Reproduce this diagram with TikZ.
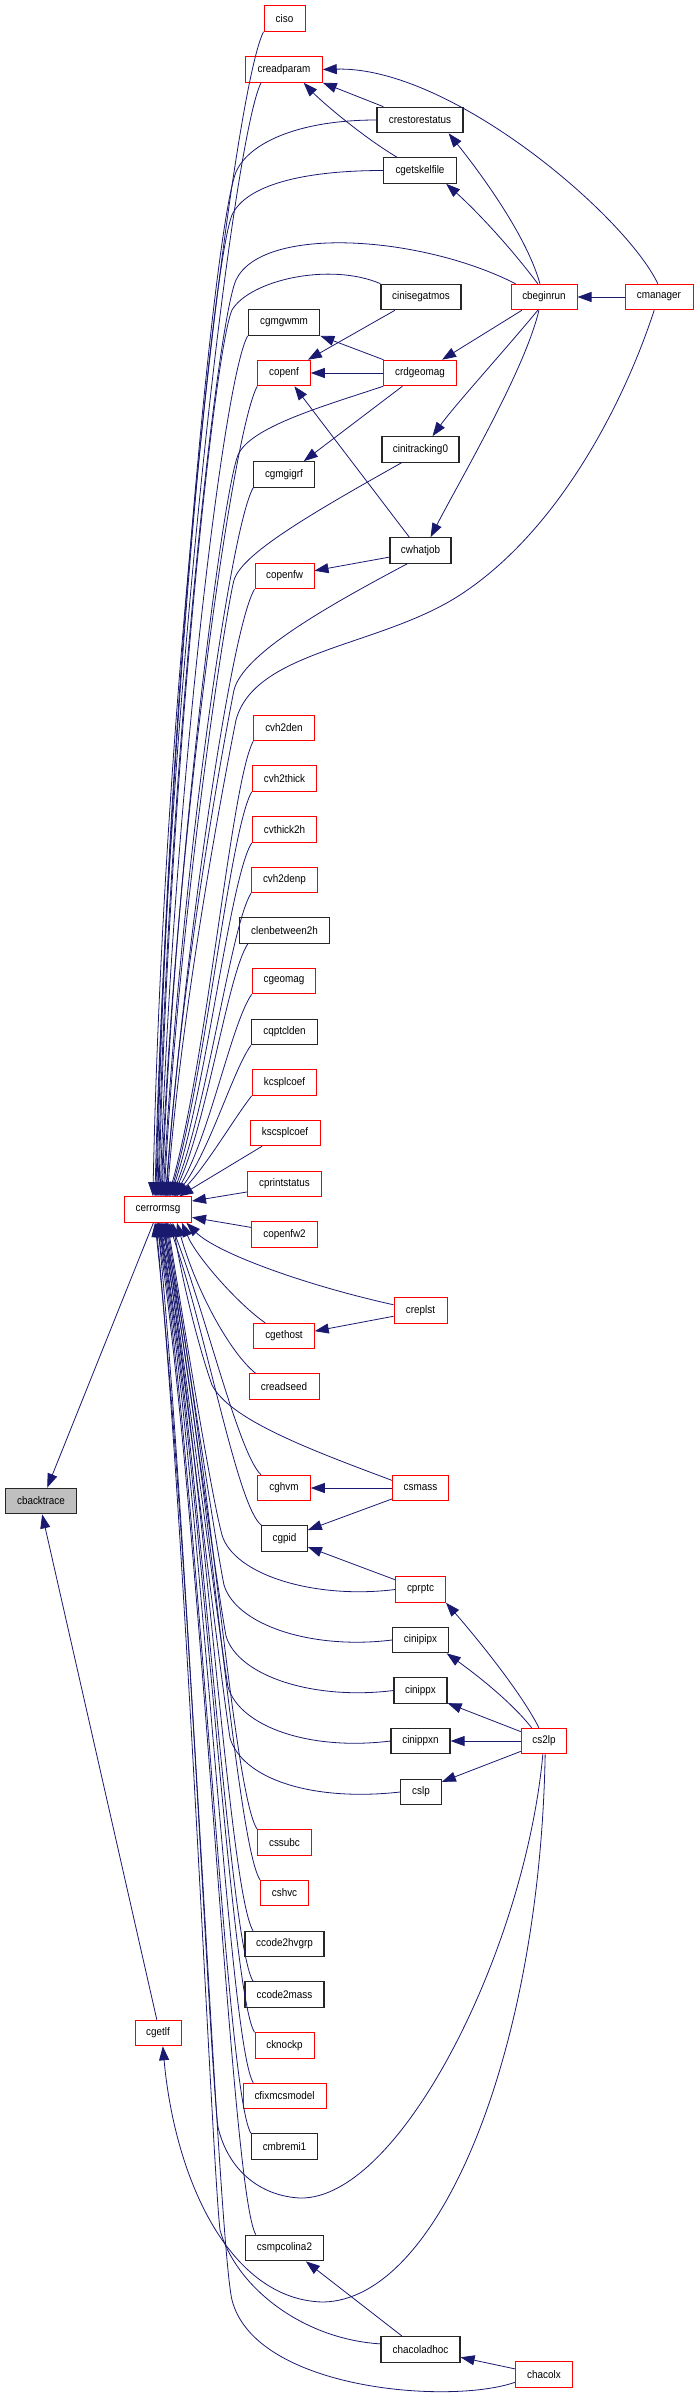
\documentclass[tikz,border=0pt]{standalone}
\usepackage{fontspec}
\setmainfont{Liberation Sans}[FakeStretch=0.9]
\usetikzlibrary{arrows.meta}
\definecolor{edgeblue}{HTML}{191970}
\definecolor{nodered}{HTML}{FF0000}
\definecolor{nodegrey}{HTML}{BFBFBF}
\begin{document}
\begin{tikzpicture}[x=1pt,y=-1pt,
  box/.style={draw, fill=white, minimum height=25.5pt, inner xsep=2pt, inner ysep=0pt, font=\fontsize{11}{12}\selectfont, anchor=center},
  rbox/.style={box, draw=nodered, line width=1pt},
  bbox/.style={box, draw=black!85, line width=1.2pt},
  gbox/.style={bbox, fill=nodegrey},
  edge/.style={draw=edgeblue, line width=0.8pt, -{Triangle[length=14pt,width=10pt]}},
]
\useasboundingbox (0,0) rectangle (695,2401);
% nodes
\node[rbox, minimum width=41pt] (ciso) at (284.5,18.5) {ciso};
\node[rbox, minimum width=76.5pt] (creadparam) at (284,69.5) {creadparam};
\node[bbox, minimum width=86pt] (crestorestatus) at (420,120) {crestorestatus};
\node[bbox, minimum width=72.5pt] (cgetskelfile) at (420,170.5) {cgetskelfile};
\node[bbox, minimum width=80pt] (cinisegatmos) at (421,297) {cinisegatmos};
\node[rbox, minimum width=66pt] (cbeginrun) at (544,297) {cbeginrun};
\node[rbox, minimum width=68pt] (cmanager) at (659,297) {cmanager};
\node[bbox, minimum width=71.5pt] (cgmgwmm) at (284,322.5) {cgmgwmm};
\node[rbox, minimum width=52.5pt] (copenf) at (284,373) {copenf};
\node[rbox, minimum width=72.5pt] (crdgeomag) at (420,373) {crdgeomag};
\node[bbox, minimum width=77pt] (cinitracking0) at (420.5,449.5) {cinitracking0};
\node[bbox, minimum width=60.5pt] (cgmgigrf) at (284,474.5) {cgmgigrf};
\node[bbox, minimum width=61pt] (cwhatjob) at (420.5,550.5) {cwhatjob};
\node[rbox, minimum width=59pt] (copenfw) at (284.5,576) {copenfw};
\node[rbox, minimum width=60.5pt] (cvh2den) at (284,728) {cvh2den};
\node[rbox, minimum width=64.5pt] (cvh2thick) at (284.5,778.5) {cvh2thick};
\node[rbox, minimum width=64.5pt] (cvthick2h) at (284.5,829.5) {cvthick2h};
\node[rbox, minimum width=66pt] (cvh2denp) at (284.5,880) {cvh2denp};
\node[bbox, minimum width=90pt] (clenbetween2h) at (284.5,930.5) {clenbetween2h};
\node[rbox, minimum width=63.5pt] (cgeomag) at (284,981) {cgeomag};
\node[bbox, minimum width=66pt] (cqptclden) at (284.5,1032) {cqptclden};
\node[rbox, minimum width=64.5pt] (kcsplcoef) at (284.5,1082.5) {kcsplcoef};
\node[rbox, minimum width=70pt] (kscsplcoef) at (285,1133) {kscsplcoef};
\node[rbox, minimum width=74pt] (cprintstatus) at (284.5,1184) {cprintstatus};
\node[rbox, minimum width=67pt] (cerrormsg) at (158,1209.5) {cerrormsg};
\node[rbox, minimum width=66pt] (copenfw2) at (284.5,1234.5) {copenfw2};
\node[rbox, minimum width=53pt] (creplst) at (420.5,1310.5) {creplst};
\node[rbox, minimum width=60.5pt] (cgethost) at (284,1336) {cgethost};
\node[rbox, minimum width=70pt] (creadseed) at (284,1386.5) {creadseed};
\node[rbox, minimum width=52.5pt] (cghvm) at (284,1488) {cghvm};
\node[rbox, minimum width=56pt] (csmass) at (420.5,1488) {csmass};
\node[gbox, minimum width=71.3pt] (cbacktrace) at (41,1501) {cbacktrace};
\node[bbox, minimum width=45.5pt] (cgpid) at (284.5,1538.5) {cgpid};
\node[rbox, minimum width=50pt] (cprptc) at (420.5,1589.5) {cprptc};
\node[bbox, minimum width=56pt] (cinipipx) at (420.5,1640) {cinipipx};
\node[bbox, minimum width=53pt] (cinippx) at (420.5,1690.5) {cinippx};
\node[bbox, minimum width=59pt] (cinippxn) at (420.5,1741) {cinippxn};
\node[rbox, minimum width=45.5pt] (cs2lp) at (544,1741) {cs2lp};
\node[bbox, minimum width=40.5pt] (cslp) at (421,1792) {cslp};
\node[rbox, minimum width=53.5pt] (cssubc) at (284.5,1842.5) {cssubc};
\node[rbox, minimum width=48pt] (cshvc) at (284.5,1893) {cshvc};
\node[bbox, minimum width=79pt] (ccode2hvgrp) at (284.5,1944) {ccode2hvgrp};
\node[bbox, minimum width=79pt] (ccode2mass) at (284.5,1994.5) {ccode2mass};
\node[rbox, minimum width=46pt] (cgetlf) at (158,2033) {cgetlf};
\node[rbox, minimum width=59pt] (cknockp) at (284.5,2045.5) {cknockp};
\node[rbox, minimum width=83pt] (cfixmcsmodel) at (284.5,2096) {cfixmcsmodel};
\node[bbox, minimum width=66pt] (cmbremi1) at (284.5,2146.5) {cmbremi1};
\node[bbox, minimum width=78.5pt] (csmpcolina2) at (284.5,2248) {csmpcolina2};
\node[bbox, minimum width=79pt] (chacoladhoc) at (420.5,2349.5) {chacoladhoc};
\node[rbox, minimum width=57pt] (chacolx) at (544,2374.5) {chacolx};
% edges into cerrormsg from above
\draw[edge] (ciso.south west) .. controls +(-30,60) and +(11,-525) .. (cerrormsg.111);
\draw[edge] (creadparam.-150) .. controls +(-28,55) and +(12,-490) .. (cerrormsg.103);
\draw[edge] (crestorestatus.west) .. controls +(-80,0) and +(12,-28) .. (236,172) .. controls +(-22,55) and +(10,-450) .. (cerrormsg.99);
\draw[edge] (cgetskelfile.west) .. controls +(-80,0) and +(14,-30) .. (232,215) .. controls +(-20,50) and +(9,-440) .. (cerrormsg.95);
\draw[edge] (cbeginrun.155) .. controls (420,235) and (262,225) .. (236,280) .. controls +(-20,45) and +(9,-410) .. (cerrormsg.90);
\draw[edge] (cinisegatmos.north west) .. controls (330,262) and (250,280) .. (232,310) .. controls +(-18,40) and +(9,-400) .. (cerrormsg.86);
\draw[edge] (cgmgwmm.south west) .. controls +(-25,45) and +(12,-380) .. (cerrormsg.81);
\draw[edge] (copenf.south west) .. controls +(-25,45) and +(14,-350) .. (cerrormsg.77);
\draw[edge] (crdgeomag.south west) .. controls +(-60,20) and +(12,-28) .. (238,455) .. controls +(-16,40) and +(12,-320) .. (cerrormsg.73);
\draw[edge] (cgmgigrf.south west) .. controls +(-24,42) and +(16,-300) .. (cerrormsg.69);
\draw[edge] (cinitracking0.-145) .. controls +(-100,56) and +(8,-25) .. (234,580) .. controls +(-10,40) and +(14,-270) .. (cerrormsg.65);
\draw[edge] (copenfw.south west) .. controls +(-24,40) and +(20,-250) .. (cerrormsg.61);
\draw[edge] (cwhatjob.-135) .. controls (320,610) and (243,655) .. (234,690) .. controls +(-8,40) and +(14,-220) .. (cerrormsg.58);
\draw[edge] (cmanager.-110) .. controls (625,400) and (560,530) .. (460,595) .. controls (380,647) and (255,650) .. (236,720) .. controls +(-8,40) and +(15,-200) .. (cerrormsg.55);
\draw[edge] (cvh2den.south west) .. controls +(-22,40) and +(39,-137) .. (cerrormsg.52);
\draw[edge] (cvh2thick.south west) .. controls +(-22,38) and +(36,-122) .. (cerrormsg.49);
\draw[edge] (cvthick2h.south west) .. controls +(-22,35) and +(36,-106) .. (cerrormsg.47);
\draw[edge] (cvh2denp.south west) .. controls +(-20,32) and +(36,-91) .. (cerrormsg.44);
\draw[edge] (clenbetween2h.-160) .. controls +(-20,30) and +(35,-76) .. (cerrormsg.42);
\draw[edge] (cgeomag.south west) .. controls +(-20,28) and +(36,-61) .. (cerrormsg.40);
\draw[edge] (cqptclden.south west) .. controls +(-18,25) and +(35,-46) .. (cerrormsg.38);
\draw[edge] (kcsplcoef.south west) .. controls +(-16,20) and +(30,-30) .. (cerrormsg.36);
\draw[edge] (kscsplcoef.-150) -- (cerrormsg.32);
\draw[edge] (cprintstatus.-168) -- (cerrormsg.14);
\draw[edge] (copenfw2.168) -- (cerrormsg.-13);
% edges into cerrormsg from below
\draw[edge] (creplst.168) .. controls +(-90,-20) and +(30,30) .. (cerrormsg.-25);
\draw[edge] (cgethost.145) .. controls +(-26,-18) and +(15,35) .. (cerrormsg.-29);
\draw[edge] (creadseed.155) .. controls +(-25,-20) and +(20,70) .. (cerrormsg.-35);
\draw[edge] (csmass.165) .. controls +(-80,-30) and +(18,35) .. (212,1385) .. controls +(-14,-40) and +(10,60) .. (cerrormsg.-42);
\draw[edge] (cghvm.150) .. controls +(-22,-20) and +(35,90) .. (cerrormsg.-47);
\draw[edge] (cgpid.150) .. controls +(-24,-18) and +(38,110) .. (cerrormsg.-52);
\draw[edge] (cprptc.west) .. controls +(-80,10) and +(12,40) .. (222,1535) .. controls +(-12,-45) and +(15,90) .. (cerrormsg.-55);
\draw[edge] (cinipipx.west) .. controls +(-80,10) and +(12,40) .. (224,1585) .. controls +(-10,-50) and +(18,110) .. (cerrormsg.-58);
\draw[edge] (cinippx.west) .. controls +(-80,10) and +(12,40) .. (226,1636) .. controls +(-10,-55) and +(20,130) .. (cerrormsg.-61);
\draw[edge] (cinippxn.west) .. controls +(-80,10) and +(12,40) .. (228,1687) .. controls +(-10,-60) and +(22,150) .. (cerrormsg.-65);
\draw[edge] (cslp.west) .. controls +(-90,10) and +(12,40) .. (230,1738) .. controls +(-10,-65) and +(24,170) .. (cerrormsg.-69);
\draw[edge] (cssubc.north west) .. controls +(-25,-35) and +(43,182) .. (cerrormsg.-73);
\draw[edge] (cshvc.north west) .. controls +(-25,-38) and +(44,200) .. (cerrormsg.-77);
\draw[edge] (ccode2hvgrp.157) .. controls +(-25,-40) and +(42,210) .. (cerrormsg.-81);
\draw[edge] (ccode2mass.157) .. controls +(-25,-40) and +(42,230) .. (cerrormsg.-84);
\draw[edge] (cknockp.north west) .. controls +(-25,-40) and +(43,245) .. (cerrormsg.-86);
\draw[edge] (cfixmcsmodel.157) .. controls +(-25,-40) and +(43,260) .. (cerrormsg.-88);
\draw[edge] (cmbremi1.north west) .. controls +(-25,-40) and +(42,275) .. (cerrormsg.-90);
\draw[edge] (cs2lp.-95) .. controls (525,1950) and (400,2200) .. (300,2198) .. controls (260,2196) and (228,2170) .. (218,2127) .. controls +(-8,-60) and +(27,270) .. (cerrormsg.-92);
\draw[edge] (csmpcolina2.155) .. controls +(-25,-40) and +(45,300) .. (cerrormsg.-95);
\draw[edge] (chacoladhoc.172) .. controls +(-80,-5) and +(15,55) .. (220,2230) .. controls +(-8,-70) and +(29,300) .. (cerrormsg.-99);
\draw[edge] (chacolx.-165) .. controls (450,2405) and (255,2390) .. (232,2300) .. controls +(-14,-60) and +(35,320) .. (cerrormsg.-103);
% cgetlf and cbacktrace
\draw[edge] (cs2lp.-85) .. controls (540,2050) and (440,2300) .. (323,2302) .. controls (230,2300) and (175,2180) .. (cgetlf.-70);
\draw[edge] (cgetlf.95) -- (cbacktrace.-85);
\draw[edge] (cerrormsg.-109) -- (cbacktrace.65);
% other edges
\draw[edge] (cmanager.95) .. controls (625,215) and (450,66) .. (creadparam.east);
\draw[edge] (crestorestatus.160) -- (creadparam.south east);
\draw[edge] (cgetskelfile.150) .. controls (360,135) and (320,100) .. (creadparam.-34);
\draw[edge] (cbeginrun.107) .. controls (525,230) and (470,160) .. (crestorestatus.-25);
\draw[edge] (cbeginrun.115) .. controls (505,240) and (470,205) .. (cgetskelfile.-27);
\draw[edge] (cmanager.west) -- (cbeginrun.east);
\draw[edge] (cbeginrun.-149) -- (crdgeomag.31);
\draw[edge] (cbeginrun.-115) .. controls (505,350) and (455,405) .. (cinitracking0.48);
\draw[edge] (cbeginrun.-111) .. controls (525,370) and (460,480) .. (cwhatjob.53);
\draw[edge] (crdgeomag.160) -- (cgmgwmm.south east);
\draw[edge] (crdgeomag.west) -- (copenf.east);
\draw[edge] (cinisegatmos.-153) -- (copenf.29);
\draw[edge] (crdgeomag.-143) -- (cgmgigrf.34);
\draw[edge] (cwhatjob.130) -- (copenf.-52);
\draw[edge] (cwhatjob.-168) -- (copenfw.10);
\draw[edge] (creplst.-168) -- (cgethost.9);
\draw[edge] (csmass.west) -- (cghvm.east);
\draw[edge] (csmass.-159) -- (cgpid.20);
\draw[edge] (cprptc.159) -- (cgpid.-20);
\draw[edge] (cs2lp.111) .. controls (520,1690) and (470,1630) .. (cprptc.south east);
\draw[edge] (cs2lp.133) .. controls (510,1700) and (470,1670) .. (cinipipx.-27);
\draw[edge] (cs2lp.158) -- (cinippx.-25);
\draw[edge] (cs2lp.west) -- (cinippxn.east);
\draw[edge] (cs2lp.-156) -- (cslp.26);
\draw[edge] (chacoladhoc.144) -- (csmpcolina2.-32);
\draw[edge] (chacolx.169) -- (chacoladhoc.-11);
\end{tikzpicture}
\end{document}
